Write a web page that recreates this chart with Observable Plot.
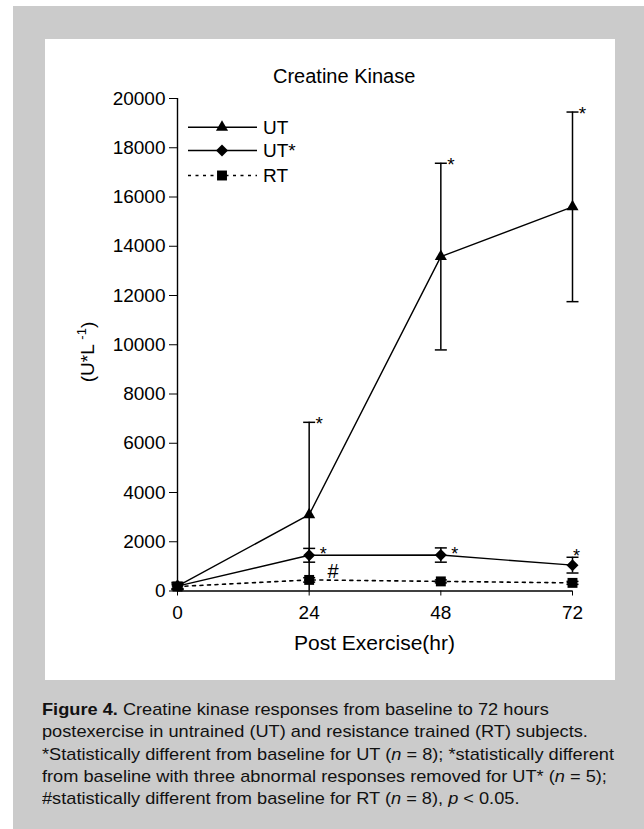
<!DOCTYPE html>
<html>
<head>
<meta charset="utf-8">
<script src="https://cdn.jsdelivr.net/npm/d3@7"></script>
<script src="https://cdn.jsdelivr.net/npm/@observablehq/plot@0.6"></script>
<style>
  html, body { margin: 0; padding: 0; background: #fff; }
  #page { position: relative; width: 644px; height: 829px; overflow: hidden; }
  #grey { position: absolute; left: 13px; top: 6px; width: 631px; height: 823px; background: #cbcbcb; }
  #panel { position: absolute; left: 45px; top: 39px; width: 570px; height: 641px; background: #fff; }
  #panel svg { display: block; }
  #caption { position: absolute; left: 42px; top: 699px; font-family: "Liberation Sans", Arial, sans-serif;
             font-size: 17px; line-height: 22.3px; color: #111; transform-origin: 0 0; }
  #caption div { white-space: nowrap; }
</style>
</head>
<body>
<div id="page">
  <div id="grey"></div>
  <div id="panel"></div>
  <div id="caption">
    <div><b>Figure 4.</b> Creatine kinase responses from baseline to 72 hours</div>
    <div>postexercise in untrained (UT) and resistance trained (RT) subjects.</div>
    <div id="capline3">*Statistically different from baseline for UT (<i>n</i> = 8); *statistically different</div>
    <div>from baseline with three abnormal responses removed for UT* (<i>n</i> = 5);</div>
    <div>#statistically different from baseline for RT (<i>n</i> = 8), <i>p</i> &lt; 0.05.</div>
  </div>
</div>
<script>
// ---- data ----
const hours = [0, 24, 48, 72];
const seriesNames = ["UT", "UT*", "RT"];
const utMean = [200, 3100, 13580, 15600];
const utErr = [150, 3750, 3790, 3850];
const utStarMean = [200, 1450, 1460, 1050];
const utStarErr = [120, 280, 290, 320];
const rtMean = [180, 450, 390, 330];
const rtErr = [80, 90, 60, 60];
const yTicks = [0, 2000, 4000, 6000, 8000, 10000, 12000, 14000, 16000, 18000, 20000];
const xTicks = [0, 24, 48, 72];
const titleText = "Creatine Kinase";
const xLabel = "Post Exercise(hr)";
const utSigHours = [24, 48, 72];      // "*" at UT error-bar tops
const utStarSigHours = [24, 48, 72];  // "*" beside UT* points
const rtSigHours = [24];              // "#" beside RT points

// ---- build rows ----
const means = [utMean, utStarMean, rtMean];
const errs = [utErr, utStarErr, rtErr];
const rows = [];
seriesNames.forEach((s, i) => hours.forEach((h, j) => {
  const m = means[i][j], e = errs[i][j];
  rows.push({series: s, hour: h, mean: m, lo: Math.max(0, m - e), hi: m + e});
}));
const caps = [];
rows.forEach(r => { caps.push({hour: r.hour, y: r.hi}); if (r.lo > 0) caps.push({hour: r.hour, y: r.lo}); });
const bySeries = s => rows.filter(r => r.series === s);

const capSymbol = { draw(ctx, size) { const r = Math.sqrt(size / Math.PI); ctx.moveTo(-r, 0); ctx.lineTo(r, 0); } };

const FONT = '"Liberation Sans", Arial, Helvetica, sans-serif';

// annotations anchored to data points
const utStars = utSigHours.map(h => bySeries("UT").find(r => r.hour === h)).map(r => ({hour: r.hour, y: r.hi}));
const utStarStars = utStarSigHours.map(h => bySeries("UT*").find(r => r.hour === h));
const rtHashes = rtSigHours.map(h => bySeries("RT").find(r => r.hour === h));
const utStarDx = [14, 14, 4], utStarDy = [-1, -1, -9];

const svg = Plot.plot({
  width: 570, height: 641,
  marginLeft: 132, marginRight: 43, marginTop: 59, marginBottom: 89.5,
  style: { fontFamily: FONT, fontSize: "19px", color: "#000", background: "transparent" },
  x: { domain: [0, 72], ticks: xTicks, tickSize: 5, tickPadding: 9, label: null, tickFormat: d => String(d) },
  y: { domain: [0, 20000], ticks: yTicks, tickSize: 8, tickPadding: 4, label: null, tickFormat: d => String(d) },
  marks: [
    Plot.ruleX([0], { stroke: "#000", strokeWidth: 1.4 }),
    Plot.ruleY([0], { stroke: "#000", strokeWidth: 1.4 }),
    Plot.line(bySeries("RT"), { x: "hour", y: "mean", stroke: "#000", strokeWidth: 1.6, strokeDasharray: "3,4.5" }),
    Plot.line(bySeries("UT*"), { x: "hour", y: "mean", stroke: "#000", strokeWidth: 1.4 }),
    Plot.line(bySeries("UT"), { x: "hour", y: "mean", stroke: "#000", strokeWidth: 1.4 }),
    Plot.ruleX(rows, { x: "hour", y1: "lo", y2: "hi", stroke: "#000", strokeWidth: 1.5 }),
    Plot.dot(caps, { x: "hour", y: "y", symbol: capSymbol, r: 6, stroke: "#000", strokeWidth: 1.5, fill: "none" }),
    Plot.dot(bySeries("RT"), { x: "hour", y: "mean", symbol: "square", r: 5.6, fill: "#000", stroke: "none" }),
    Plot.dot(bySeries("UT*"), { x: "hour", y: "mean", symbol: "diamond2", r: 5.4, fill: "#000", stroke: "none" }),
    Plot.dot(bySeries("UT"), { x: "hour", y: "mean", symbol: "triangle", r: 4.5, fill: "#000", stroke: "none" }),
    Plot.text(utStars, { x: "hour", y: "y", text: () => "*", dx: 10, dy: 2, fontSize: 19, fill: "#000" }),
    ...utStarStars.map((r, i) => Plot.text([r], { x: "hour", y: "mean", text: () => "*", dx: utStarDx[i], dy: utStarDy[i], fontSize: 18, fill: "#000" })),
    Plot.text(rtHashes, { x: "hour", y: "mean", text: () => "#", dx: 24, dy: -8, fontSize: 20, fill: "#000" })
  ]
});
document.getElementById("panel").appendChild(svg);

const S = d3.select(svg);
// title
S.append("text").attr("x", 228).attr("y", 37).attr("dy", "0.35em").attr("text-anchor", "start")
  .attr("font-family", FONT).attr("font-size", 20).attr("fill", "#000").text(titleText);
// x label
S.append("text").attr("x", 329.5).attr("y", 604).attr("dy", "0.35em").attr("text-anchor", "middle")
  .attr("font-family", FONT).attr("font-size", 21).attr("fill", "#000").text(xLabel);
// y label with superscript
const yl = S.append("text").attr("transform", "translate(42,313) rotate(-90)").attr("text-anchor", "middle")
  .attr("dy", "0.35em").attr("font-family", FONT).attr("font-size", 19).attr("fill", "#000");
yl.append("tspan").text("(U*L ");
yl.append("tspan").attr("font-size", 13).attr("dy", "-0.6em").text("-1");
yl.append("tspan").attr("dy", "0.45em").text(")");

// legend
const legendSymbols = [d3.symbolTriangle, d3.symbolDiamond2, d3.symbolSquare];
const legendSizes = [4.5, 5.4, 5.6].map(r => r * r * Math.PI);
const legendDash = [null, null, "3,4.5"];
const legendY = [88.3, 111.5, 136.5];
const lg = S.append("g");
seriesNames.forEach((s, i) => {
  const y = legendY[i];
  lg.append("line").attr("x1", 143).attr("x2", 212).attr("y1", y).attr("y2", y)
    .attr("stroke", "#000").attr("stroke-width", 1.5).attr("stroke-dasharray", legendDash[i]);
  lg.append("path").attr("transform", `translate(177,${y})`)
    .attr("d", d3.symbol(legendSymbols[i], legendSizes[i])()).attr("fill", "#000");
  lg.append("text").attr("x", 218).attr("y", y).attr("dy", "0.35em").attr("text-anchor", "start")
    .attr("font-family", FONT).attr("font-size", 19).attr("fill", "#000").text(s);
});

// caption fit: line 3 spans the caption width
const cap = document.getElementById("caption");
const l3 = document.getElementById("capline3");
const range = document.createRange(); range.selectNodeContents(l3);
const w = range.getBoundingClientRect().width;
cap.style.transform = `scaleX(${572 / w})`;
</script>
</body>
</html>
